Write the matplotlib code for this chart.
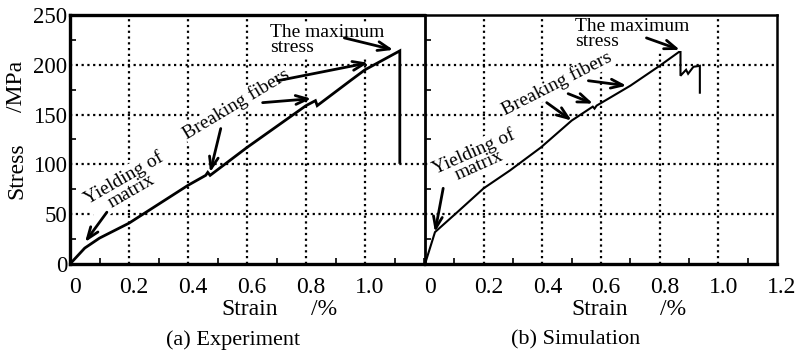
import matplotlib
matplotlib.use("Agg")
import matplotlib.pyplot as plt
import matplotlib.transforms as mtransforms
from matplotlib.ticker import MultipleLocator

plt.rcParams['font.family'] = ['Liberation Serif', 'DejaVu Serif']

# ---- data ----
exp_strain = [0, 0.05, 0.10, 0.20, 0.40, 0.46, 0.467, 0.475, 0.60, 0.80, 0.832, 0.838, 0.95, 1.0, 1.118, 1.118]
exp_stress = [0, 16, 26, 41, 79, 89, 92, 89, 117, 159, 164, 159, 184, 195, 214, 102]

sim_strain = [0, 0.034, 0.11, 0.2, 0.29, 0.395, 0.50, 0.572, 0.578, 0.585, 0.70, 0.80, 0.871, 0.871, 0.89, 0.897, 0.915, 0.937, 0.937]
sim_stress = [0, 32, 52, 76, 94, 117, 144, 158, 156, 159, 179, 199, 214, 189, 195, 191, 198, 199, 172]

x_ticks_left = [0, 0.2, 0.4, 0.6, 0.8, 1.0]
x_ticklabels_left = ['0', '0.2', '0.4', '0.6', '0.8', '1.0']
x_ticks_right = [0, 0.2, 0.4, 0.6, 0.8, 1.0, 1.2]
x_ticklabels_right = ['0', '0.2', '0.4', '0.6', '0.8', '1.0', '1.2']
y_ticks = [0, 50, 100, 150, 200, 250]
y_ticklabels = ['0', '50', '100', '150', '200', '250']

fig = plt.figure(figsize=(8, 3.57), dpi=100)
axL = fig.add_axes([0.0875, 0.2605, 0.4425, 0.6975])
axR = fig.add_axes([0.53125, 0.2605, 0.44, 0.6975])

grid_kw = dict(color='black', linestyle=(0, (1, 1.6)), linewidth=1.6)
arrow_kw = dict(arrowstyle='->,head_length=0.85,head_width=0.32', color='black', lw=2.0,
                shrinkA=0, shrinkB=0)
ann_font = 14
bbox_kw = dict(facecolor='white', edgecolor='none', pad=0.5)

for ax in (axL, axR):
    ax.set_xlim(0, 1.2)
    ax.set_ylim(0, 250)
    ax.set_yticks(y_ticks)
    ax.xaxis.set_minor_locator(MultipleLocator(0.1))
    ax.yaxis.set_minor_locator(MultipleLocator(25))
    ax.tick_params(which='major', direction='in', length=0, labelsize=17, pad=9)
    ax.tick_params(which='minor', direction='in', length=4, width=1.2)
    ax.tick_params(axis='y', which='major', pad=2, labelsize=16.5)
    for v in [50, 100, 150, 200]:
        ax.axhline(v, zorder=1, **grid_kw)

for v in x_ticks_left[1:]:
    axL.axvline(v, zorder=1, **grid_kw)
for v in x_ticks_right[1:-1]:
    axR.axvline(v, zorder=1, **grid_kw)

axL.set_xticks(x_ticks_left)
axL.set_xticklabels(x_ticklabels_left)
axL.set_yticklabels(y_ticklabels)
axR.set_xticks(x_ticks_right)
axR.set_xticklabels(x_ticklabels_right)
axR.set_yticklabels([])
axR.tick_params(axis='y', which='both', labelleft=False)

for lab in axL.get_xticklabels() + axR.get_xticklabels():
    lab.set_transform(lab.get_transform() + mtransforms.ScaledTranslation(5 / 100, 0, fig.dpi_scale_trans))

axL.spines['right'].set_visible(False)
for s in ['left', 'bottom', 'top']:
    axL.spines[s].set_linewidth(2.4)
axR.spines['left'].set_linewidth(2.0)
axR.spines['bottom'].set_linewidth(2.4)
axR.spines['top'].set_linewidth(1.8)
axR.spines['right'].set_linewidth(1.8)

axL.plot(exp_strain, exp_stress, color='black', lw=2.0, zorder=3, solid_joinstyle='miter')
axR.plot(sim_strain, sim_stress, color='black', lw=1.5, zorder=3, solid_joinstyle='miter')

# ---- annotations, left panel ----
axL.text(0.678, 241, 'The maximum\nstress', fontsize=ann_font, ha='left', va='top',
         linespacing=0.85, zorder=4, bbox=bbox_kw)
axL.annotate('', xy=(1.096, 215), xytext=(0.93, 227), arrowprops=arrow_kw, zorder=5)
axL.text(0.565, 160, 'Breaking fibers', fontsize=ann_font, rotation=31, ha='center',
         va='center', rotation_mode='anchor', zorder=4, bbox=bbox_kw)
axL.annotate('', xy=(0.475, 92), xytext=(0.511, 136), arrowprops=arrow_kw, zorder=5)
axL.annotate('', xy=(0.818, 166), xytext=(0.653, 162), arrowprops=arrow_kw, zorder=5)
axL.annotate('', xy=(1.011, 202), xytext=(0.704, 184), arrowprops=arrow_kw, zorder=5)
axL.text(0.195, 80, 'Yielding of\nmatrix', fontsize=ann_font, rotation=30, ha='center',
         va='center', rotation_mode='anchor', linespacing=0.85, zorder=4, bbox=bbox_kw)
axL.annotate('', xy=(0.051, 22), xytext=(0.125, 52), arrowprops=arrow_kw, zorder=5)

# ---- annotations, right panel ----
axR.text(0.511, 247, 'The maximum\nstress', fontsize=ann_font, ha='left', va='top',
         linespacing=0.85, zorder=4, bbox=bbox_kw)
axR.annotate('', xy=(0.869, 215), xytext=(0.755, 227), arrowprops=arrow_kw, zorder=5)
axR.text(0.45, 181, 'Breaking fibers', fontsize=ann_font, rotation=27, ha='center',
         va='center', rotation_mode='anchor', zorder=4, bbox=bbox_kw)
axR.annotate('', xy=(0.50, 144), xytext=(0.415, 162), arrowprops=arrow_kw, zorder=5)
axR.annotate('', xy=(0.573, 161), xytext=(0.488, 171), arrowprops=arrow_kw, zorder=5)
axR.annotate('', xy=(0.687, 179), xytext=(0.557, 184), arrowprops=arrow_kw, zorder=5)
axR.text(0.175, 106, 'Yielding of\nmatrix', fontsize=ann_font, rotation=24, ha='center',
         va='center', rotation_mode='anchor', linespacing=0.85, zorder=4, bbox=bbox_kw)
axR.annotate('', xy=(0.034, 32), xytext=(0.062, 76), arrowprops=arrow_kw, zorder=5)

# ---- axis labels and captions ----
fig.text(0.021, 0.521, 'Stress', rotation=90, fontsize=17, ha='center', va='center')
fig.text(0.021, 0.759, '/MPa', rotation=90, fontsize=17, ha='center', va='center')
fig.text(0.3125, 0.132, 'Strain', fontsize=17, ha='center', va='center')
fig.text(0.405, 0.132, '/%', fontsize=17, ha='center', va='center')
fig.text(0.75, 0.132, 'Strain', fontsize=17, ha='center', va='center')
fig.text(0.841, 0.132, '/%', fontsize=17, ha='center', va='center')
fig.text(0.291, 0.048, '(a) Experiment', fontsize=16, ha='center', va='center')
fig.text(0.719, 0.048, '(b) Simulation', fontsize=16, ha='center', va='center')

fig.savefig('out.png', dpi=100)
